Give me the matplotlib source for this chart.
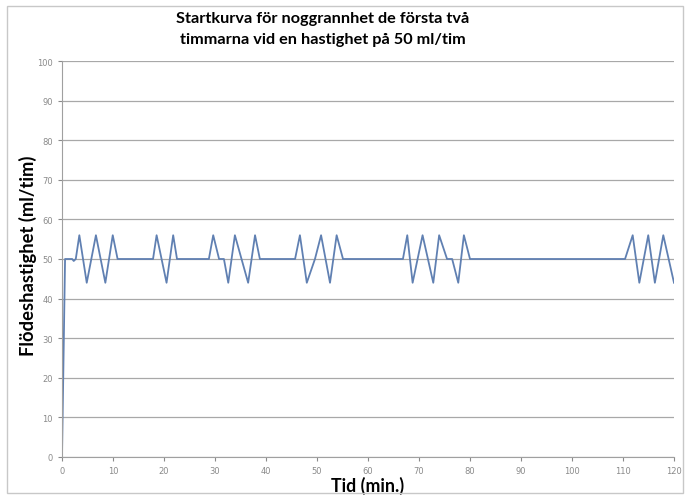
import matplotlib
matplotlib.use("Agg")
import matplotlib.pyplot as plt
from matplotlib.patches import Rectangle

# flow curve (time in min, flow in ml/tim)
tid = [0, 0.6, 2.0, 2.3, 2.7, 3.4, 4.85, 6.65, 8.5, 9.95, 10.9,
       17.85, 18.55, 20.5, 21.8, 22.55,
       28.8, 29.65, 30.8, 31.75, 32.6, 33.9, 35.2, 36.5, 37.85, 38.8,
       45.7, 46.65, 48.0, 49.6, 50.8, 52.55, 53.85, 55.1,
       66.85, 67.7, 68.75, 70.7, 72.8, 73.95, 75.5, 76.5, 77.7, 78.8, 80.0,
       110.4, 111.9, 113.2, 114.95, 116.25, 117.9, 120]
flode = [0, 50, 50, 49.5, 50, 56, 44, 56, 44, 56, 50,
         50, 56, 44, 56, 50,
         50, 56, 50, 50, 44, 56, 50, 44, 56, 50,
         50, 56, 44, 50, 56, 44, 56, 50,
         50, 56, 44, 56, 44, 56, 50, 50, 44, 56, 50,
         50, 56, 44, 56, 44, 56, 44]

x_ticks = list(range(0, 121, 10))
y_ticks = list(range(0, 101, 10))

title = "Startkurva för noggrannhet de första två\ntimmarna vid en hastighet på 50 ml/tim"

fig = plt.figure(figsize=(6.87, 5.02), dpi=100)
ax = fig.add_axes([62/687, 1 - 458/502, 612/687, 396/502])

ax.plot(tid, flode, color="#6080b2", lw=1.3)

ax.set_xlim(0, 120)
ax.set_ylim(0, 100)
ax.set_xticks(x_ticks)
ax.set_yticks(y_ticks)
ax.tick_params(labelsize=6, colors="#8a8a8a", length=3, width=0.8)
ax.yaxis.grid(True, color="#a8a8a8", lw=0.9)
ax.set_axisbelow(True)
for s in ["top", "right"]:
    ax.spines[s].set_visible(False)
for s in ["left", "bottom"]:
    ax.spines[s].set_color("#a0a0a0")

font = ["Lato", "DejaVu Sans"]
fig.text(323/687, 1 - 29.5/502, title, ha="center", va="center",
         fontsize=11.7, fontweight="bold", family=font, linespacing=1.55)
ax.set_ylabel("Flödeshastighet (ml/tim)", fontsize=13.2, fontweight="bold",
              family=font)
ax.yaxis.set_label_coords(-0.041, 0.51)
ax.set_xlabel("Tid (min.)", fontsize=12.8, fontweight="bold", family=font,
              labelpad=0.5)

fig.patches.append(Rectangle((7/687, 1 - 494/502), 676/687, 487/502,
                             transform=fig.transFigure, fill=False,
                             edgecolor="#c8c8c8", lw=1))

fig.savefig("out.png", dpi=100)
